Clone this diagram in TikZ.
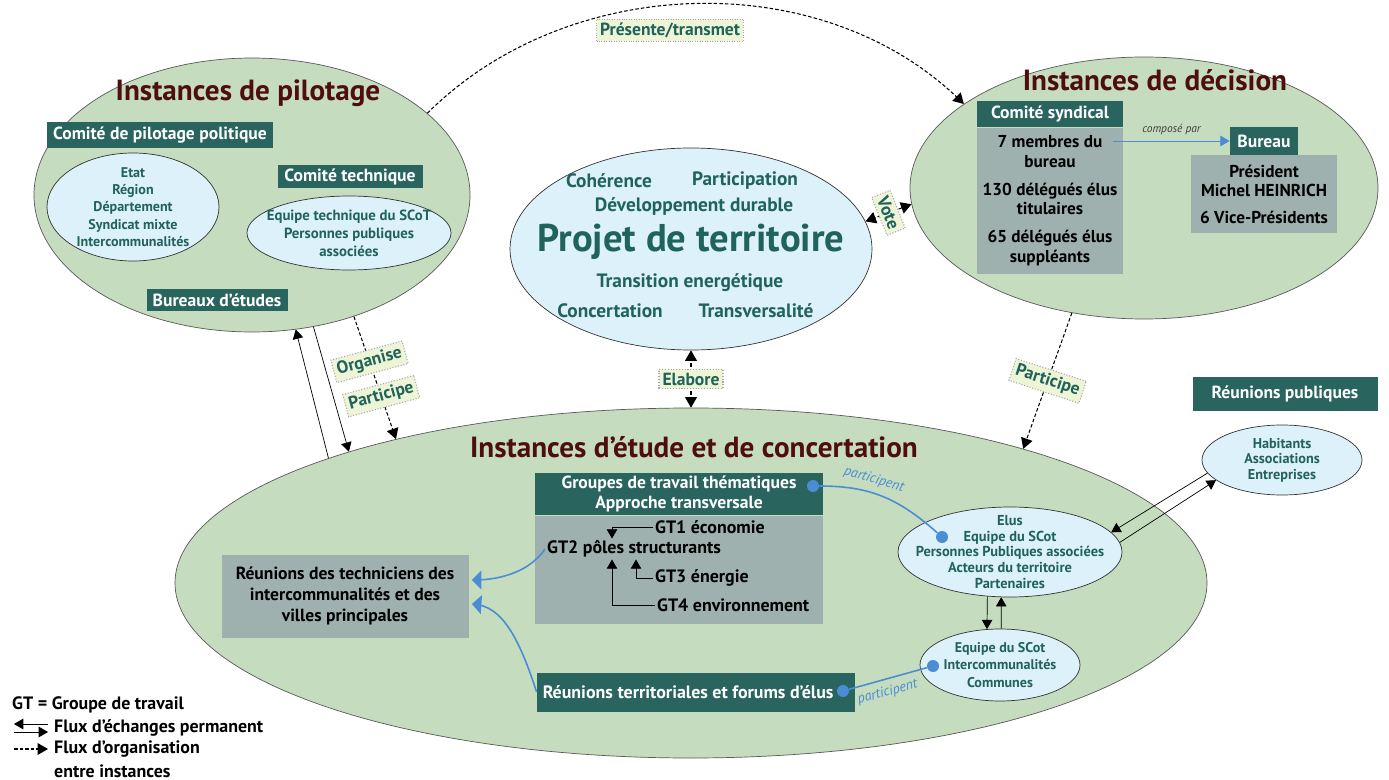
\documentclass[tikz,border=0pt]{standalone}
\usepackage{fontspec}
\setmainfont{PT Sans}
\usetikzlibrary{arrows,shapes.geometric}

\definecolor{sauge}{RGB}{197,220,191}
\definecolor{ciel}{RGB}{221,241,251}
\definecolor{sapin}{RGB}{41,101,94}
\definecolor{ardoise}{RGB}{159,177,174}
\definecolor{bordeaux}{RGB}{78,14,14}
\definecolor{encre}{RGB}{32,98,92}
\definecolor{paille}{RGB}{238,244,214}
\definecolor{azur}{RGB}{74,141,213}

\newcommand{\pxu}{0.02cm}

\begin{document}
\begin{tikzpicture}[x=0.02cm, y=-0.02cm, >=triangle 60,
  zone/.style={ellipse, draw=black!65, fill=sauge, inner sep=0},
  bulle/.style={ellipse, draw=black!80, fill=ciel, inner sep=0},
  bulletxt/.style={align=center, text=encre, inner sep=0, font=\bfseries\fontsize{8}{9.8}\selectfont},
  titre/.style={text=bordeaux, font=\bfseries\fontsize{16.6}{19}\selectfont},
  bandeau/.style={fill=sapin, text=white, inner sep=0, align=center,
    font=\bfseries\fontsize{10}{11.5}\selectfont},
  corps/.style={fill=ardoise, inner sep=0, align=center, font=\bfseries\fontsize{9.8}{11.2}\selectfont},
  mot/.style={text=encre, font=\bfseries\fontsize{11}{13}\selectfont},
  gt/.style={inner sep=1pt, font=\bfseries\fontsize{10.2}{12}\selectfont},
  etiq/.style={draw=black!35, densely dotted, fill=paille, text=encre, inner sep=2pt,
    font=\bfseries\fontsize{10}{12}\selectfont},
  legende/.style={font=\bfseries\fontsize{10.2}{12}\selectfont},
  point/.style={circle, fill=azur, inner sep=0, minimum size=12*\pxu},
  lien/.style={azur, line width=0.9pt},
  flux/.style={dash pattern=on 2pt off 1.2pt, line width=0.6pt}]
\useasboundingbox (0,0) rectangle (1389,780);

% les grandes instances
\node[zone, minimum width=436*\pxu, minimum height=274*\pxu] (pil) at (252,195) {};
\node[zone, minimum width=468*\pxu, minimum height=262*\pxu] (dec) at (1144,188) {};
\node[zone, minimum width=1032*\pxu, minimum height=350*\pxu] (etu) at (691,583) {};
\node[bulle, minimum width=362*\pxu, minimum height=202*\pxu] (proj) at (691,249) {};

% instances de pilotage
\node[titre] (tpil) at (248,93) {Instances de pilotage};
\node[bandeau, minimum width=226*\pxu, minimum height=26*\pxu] (copil) at (160,135) {Comité de pilotage politique};
\node[bulle, minimum width=172*\pxu, minimum height=108*\pxu] (membres) at (133,207) {};
\node[bulletxt] (membres-t) at (membres) {Etat\\Région\\Département\\Syndicat mixte\\Intercommunalités};
\node[bandeau, minimum width=145*\pxu, minimum height=23*\pxu] (cotech) at (350,177) {Comité technique};
\node[bulle, minimum width=204*\pxu, minimum height=74*\pxu] (equipe) at (349,233) {};
\node[bulletxt, font=\bfseries\fontsize{8.4}{10.2}\selectfont] (equipe-t) at (equipe)
  {Equipe technique du SCoT\\Personnes publiques\\associées};
\node[bandeau, minimum width=141*\pxu, minimum height=22*\pxu] (bet) at (217,300) {Bureaux d'études};

% instances de decision
\node[titre] (tdec) at (1155,80) {Instances de décision};
\node[bandeau, minimum width=146*\pxu, minimum height=26*\pxu] (csynd) at (1050,114) {Comité syndical};
\node[corps, minimum width=146*\pxu, minimum height=146*\pxu, anchor=north] (csyndc) at (csynd.south)
  {7 membres du\\bureau\\[4.5pt]130 délégués élus\\titulaires\\[4.5pt]65 délégués élus\\suppléants};
\node[bandeau, minimum width=68*\pxu, minimum height=28*\pxu] (bureau) at (1264,141) {Bureau};
\node[corps, minimum width=146*\pxu, minimum height=78*\pxu, anchor=north] (bureauc) at (1264,155)
  {Président\\Michel HEINRICH\\[4pt]6 Vice-Présidents};
\draw[->, azur, thin] ([xshift=-10*\pxu]csyndc.east |- bureau.west) -- node[above, text=black!75,
  font=\itshape\fontsize{6.5}{8}\selectfont] {composé par} (bureau.west);

% projet de territoire
\node[mot] (coh) at (609,181) {Cohérence};
\node[mot] (part) at (745,181) {Participation};
\node[mot] (dd) at (694,206) {Développement durable};
\node[mot, font=\bfseries\fontsize{22}{24}\selectfont] (pt) at (691,242) {Projet de territoire};
\node[mot] (te) at (690,283) {Transition energétique};
\node[mot] (conc) at (610,311) {Concertation};
\node[mot] (trans) at (756,311) {Transversalité};

% instances d'etude et de concertation
\node[titre] (tetu) at (694,447) {Instances d'étude et de concertation};
\node[bandeau, minimum width=288*\pxu, minimum height=42*\pxu] (gtt) at (679,494)
  {Groupes de travail thématiques\\Approche transversale};
\node[corps, minimum width=288*\pxu, minimum height=108*\pxu, anchor=north] (gttc) at (gtt.south) {};
\node[gt, anchor=west] (gt1) at (653,527) {GT1 économie};
\node[gt, anchor=west] (gt2) at (545,549) {GT2 pôles structurants};
\node[gt, anchor=west] (gt3) at (653,578) {GT3 énergie};
\node[gt, anchor=west] (gt4) at (655,605) {GT4 environnement};
\draw[->] (gt1.west) -| ([xshift=67*\pxu]gt2.north west);
\draw[->] (gt3.west) -| ([xshift=91*\pxu]gt2.south west);
\draw[->] (gt4.west) -| ([xshift=67*\pxu]gt2.south west);

\node[corps, minimum width=247*\pxu, minimum height=83*\pxu, font=\bfseries\fontsize{10}{12}\selectfont] (tech) at (345,596)
  {Réunions des techniciens des\\intercommunalités et des\\villes principales};
\node[bandeau, minimum width=318*\pxu, minimum height=39*\pxu, font=\bfseries\fontsize{10.2}{12}\selectfont] (rter) at (696,692)
  {Réunions territoriales et forums d'élus\hspace{9pt}};
\node[bulle, minimum width=224*\pxu, minimum height=90*\pxu] (elus) at (1010,552) {};
\node[bulletxt, font=\bfseries\fontsize{8.2}{8.9}\selectfont] (elus-t) at (elus)
  {Elus\\Equipe du SCot\\Personnes Publiques associées\\Acteurs du territoire\\Partenaires};
\node[bulle, minimum width=160*\pxu, minimum height=72*\pxu] (equ) at (1000,665) {};
\node[bulletxt] (equ-t) at (equ) {Equipe du SCot\\Intercommunalités\\Communes};
\node[bulle, minimum width=160*\pxu, minimum height=70*\pxu] (hab) at (1282,460) {};
\node[bulletxt, font=\bfseries\fontsize{8.1}{8.9}\selectfont] (hab-t) at (hab)
  {Habitants\\Associations\\Entreprises};
\node[bandeau, minimum width=185*\pxu, minimum height=34*\pxu] (rpub) at (1285,394) {Réunions publiques};

% participation
\node[point] (p1) at (813,486) {};
\node[point] (p2) at (942,537) {};
\node[point] (p3) at (843,691) {};
\node[point] (p4) at (933,666) {};
\draw[lien] (p1) .. controls +(55,0) and +(-45,-40) .. node[sloped, above, pos=0.4,
  font=\itshape\fontsize{8}{9}\selectfont] {participent} (p2);
\draw[lien] (p3) -- node[sloped, below, pos=0.45,
  font=\itshape\fontsize{8}{9}\selectfont] {participent} (p4);
\draw[lien, -triangle 90] (gt2.west) .. controls +(-15,22) and +(30,0) .. ([xshift=3*\pxu, yshift=16*\pxu]tech.east);
\draw[lien, -triangle 90] (rter.west) .. controls +(-18,-55) and +(30,2) .. ([xshift=3*\pxu, yshift=-8*\pxu]tech.east);

% flux entre instances
\draw[flux, ->] (pil.25) .. controls +(140,-140) and +(-140,-140) .. (dec.155);
\node[etiq] (pres) at (670,30) {Présente/transmet};
\draw[flux, <->] (proj.9) -- node[etiq, rotate=-68] (vote) {Vote} (dec.184);
\draw[flux, <->] (proj.south) -- node[etiq] (elab) {Elabore} (etu.north);
\draw[flux, ->] (pil.-50) -- node[etiq, rotate=15, pos=0.37] (org) {Organise}
  node[etiq, rotate=15, pos=0.65] (part1) {Participe} (etu.154);
\draw[flux, ->] (dec.-120) -- node[etiq, rotate=-18] (part2) {Participe} (etu.22);

% flux d'echanges
\draw[->] (etu.161) -- (pil.-72);
\draw[->] (pil.-65) -- (etu.159);
\draw[->] (hab.190) -- (elus.11);
\draw[->] (elus.5) -- (hab.197);
\draw[->] (elus.-117) -- (equ.110);
\draw[->] (equ.88) -- (elus.-101);

% legende
\node[legende, anchor=west] (lgt) at (6,705) {GT = Groupe de travail};
\node[legende, anchor=west] (lech) at (48,728) {Flux d'échanges permanent};
\node[legende, anchor=west] (lorg) at (48,749) {Flux d'organisation};
\node[legende, anchor=west] (lent) at (48,771) {entre instances};
\draw[->] ([yshift=4*\pxu]lech.west) -- ++(-34,0);
\draw[->] ([xshift=-34*\pxu, yshift=-4*\pxu]lech.west) -- ++(34,0);
\draw[flux, ->] ([xshift=-34*\pxu]lorg.west) -- (lorg.west);
\end{tikzpicture}
\end{document}
